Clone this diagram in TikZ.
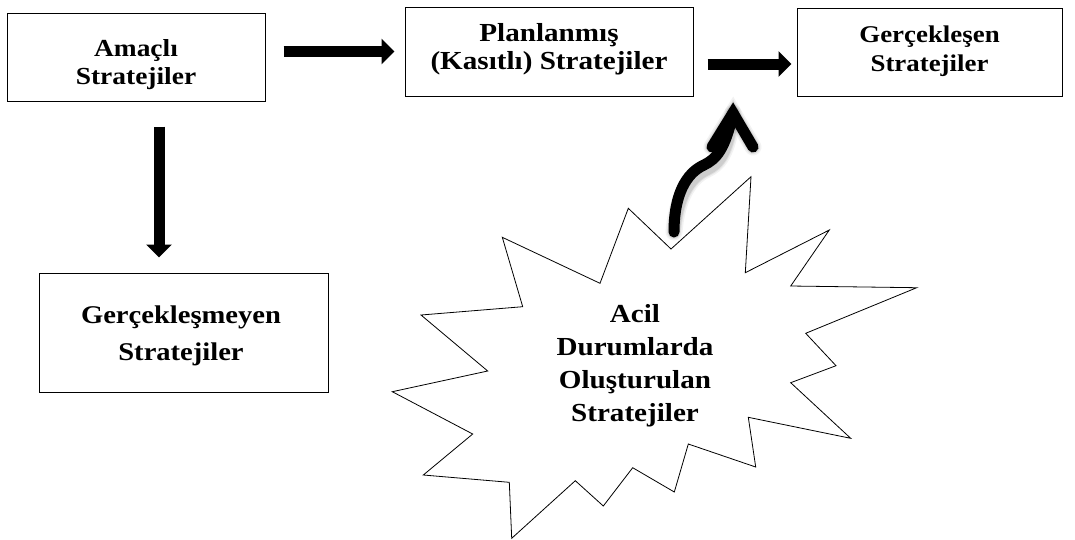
\documentclass[tikz,border=0pt]{standalone}
\usepackage{fontspec}
\usetikzlibrary{arrows.meta}
\newfontfamily\lblfont{Liberation Serif}[FakeStretch=1.12]
\begin{document}
\begin{tikzpicture}[x=1pt,y=-1pt,
  box/.style={draw=black,line width=1pt,fill=white,inner sep=0pt},
  lbl/.style={align=center,inner sep=0pt,anchor=north,font=\lblfont\bfseries},
  fat/.style={line width=11pt,-{Triangle[length=13pt,width=25pt]}},
  curvy/.style={line width=11pt,line cap=round,line join=miter},
  burst/.style={draw=black,line width=0.8pt,fill=white,line join=miter}]
\useasboundingbox (0,0) rectangle (1075,539);

% boxes
\node[box,minimum width=258pt,minimum height=88pt] (a) at (136,57) {};
\node[box,minimum width=288pt,minimum height=89pt] (b) at (549,51.5) {};
\node[box,minimum width=265pt,minimum height=88pt] (c) at (929.5,52) {};
\node[box,minimum width=289pt,minimum height=119pt] (d) at (183.5,332.5) {};

% box texts
\node[lbl,font=\lblfont\bfseries\fontsize{24.5}{28.5}\selectfont] (at) at (136,39) {Amaçlı\\Stratejiler};
\node[lbl,font=\lblfont\bfseries\fontsize{26}{28.5}\selectfont] (bt) at (549,23) {Planlanmış\\(Kasıtlı) Stratejiler};
\node[lbl,font=\lblfont\bfseries\fontsize{24}{29}\selectfont] (ct) at (929.5,26) {Gerçekleşen\\Stratejiler};
\node[lbl,font=\lblfont\bfseries\fontsize{25.5}{37}\selectfont] (dt) at (181,306) {Gerçekleşmeyen\\Stratejiler};

% starburst
\draw[burst] (628.3,208.3) -- (671,249) -- (751,176.7) -- (745.3,272.7)
  -- (829.3,230) -- (790.7,286) -- (916.7,287.7) -- (805.7,333.3)
  -- (836,365.7) -- (790.7,382.7) -- (850.7,438.3) -- (748.3,417.3)
  -- (755.7,467) -- (688.3,444) -- (674.3,492) -- (632.7,467.7)
  -- (603.3,506) -- (575.3,480.7) -- (511.7,538.3) -- (509.3,482.3)
  -- (423.3,475) -- (472.7,434) -- (392.3,391.7) -- (487.7,371)
  -- (421,315) -- (522.7,306.7) -- (502.3,237.3) -- (600,283.3) -- cycle;
\node[lbl,font=\lblfont\bfseries\fontsize{26}{33}\selectfont] (s) at (635,304.5)
  {Acil\\Durumlarda\\Oluşturulan\\Stratejiler};

% straight arrows
\draw[fat,shorten <=18pt,shorten >=10pt] (a.east |- b.west) -- (b.west);
\draw[fat,shorten <=14pt,shorten >=5pt] ([yshift=-12.5pt]b.east) -- ([yshift=-12.5pt]b.east -| c.west);
\draw[fat,shorten <=25pt,shorten >=15pt] ([xshift=23pt]a.south) -- ([xshift=23pt]a.south |- d.north);

% curved arrow rising from the starburst, with a soft drop shadow
\coordinate (tail) at (674,232);
\coordinate (apex) at (733,113);
\coordinate (armL) at (712,147);
\coordinate (armR) at (753,147);
\foreach \w/\o in {17/0.05,14/0.07,12/0.09} {
  \begin{scope}[shift={(2.5,4.5)},black,opacity=\o]
    \draw[curvy,line width=\w pt] (tail) .. controls (674,195) and (686,173) .. (704,165)
      .. controls (716,159) and (725,150) .. (apex);
    \draw[curvy,line width=\w pt] (armL) -- (apex) -- (armR);
  \end{scope}
}
\draw[curvy] (tail) .. controls (674,195) and (686,173) .. (704,165)
  .. controls (716,159) and (725,150) .. (apex);
\draw[curvy] (armL) -- (apex) -- (armR);
\end{tikzpicture}
\end{document}
